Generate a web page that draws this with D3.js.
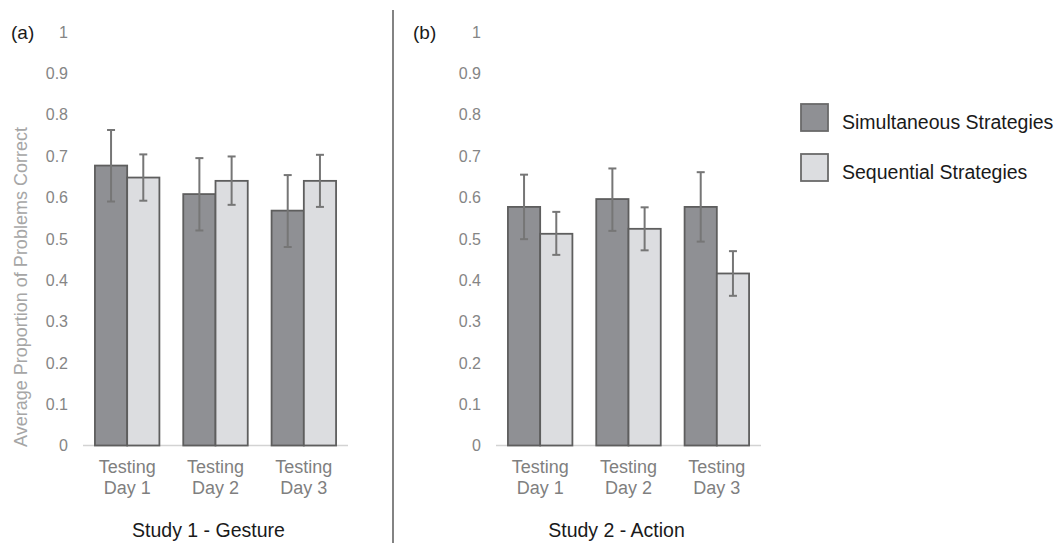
<!DOCTYPE html>
<html>
<head>
<meta charset="utf-8">
<script src="https://cdn.jsdelivr.net/npm/d3@7"></script>
<style>
  html, body { margin: 0; padding: 0; background: #ffffff; }
  svg { display: block; font-family: "Liberation Sans", Arial, sans-serif; }
</style>
</head>
<body>
<svg id="chart" width="1058" height="543"></svg>
<script>
// ---- data ----
const categories = ["Testing Day 1", "Testing Day 2", "Testing Day 3"];
const seriesNames = ["Simultaneous Strategies", "Sequential Strategies"];
const yTicks = [0, 0.1, 0.2, 0.3, 0.4, 0.5, 0.6, 0.7, 0.8, 0.9, 1];

const study1Simultaneous = [0.677, 0.608, 0.568];
const study1SimultaneousLow = [0.590, 0.520, 0.480];
const study1SimultaneousHigh = [0.763, 0.695, 0.654];
const study1Sequential = [0.648, 0.640, 0.640];
const study1SequentialLow = [0.592, 0.582, 0.577];
const study1SequentialHigh = [0.704, 0.699, 0.703];

const study2Simultaneous = [0.577, 0.596, 0.577];
const study2SimultaneousLow = [0.499, 0.519, 0.493];
const study2SimultaneousHigh = [0.655, 0.670, 0.661];
const study2Sequential = [0.512, 0.524, 0.416];
const study2SequentialLow = [0.461, 0.472, 0.362];
const study2SequentialHigh = [0.565, 0.576, 0.470];

const panels = [
  { tag: "(a)", title: "Study 1 - Gesture",
    sim: study1Simultaneous, simLo: study1SimultaneousLow, simHi: study1SimultaneousHigh,
    seq: study1Sequential, seqLo: study1SequentialLow, seqHi: study1SequentialHigh },
  { tag: "(b)", title: "Study 2 - Action",
    sim: study2Simultaneous, simLo: study2SimultaneousLow, simHi: study2SimultaneousHigh,
    seq: study2Sequential, seqLo: study2SequentialLow, seqHi: study2SequentialHigh }
];

// ---- layout ----
const layout = [
  { x0: 83, x1: 348, tagX: 11, titleShift: -7 },
  { x0: 496, x1: 761, tagX: 413, titleShift: -12 }
];
const fills = ["#8f9094", "#dcdde0"];
const barStroke = "#5e5e5e";
const errColor = "#767676";

const svg = d3.select("#chart");
const y = d3.scaleLinear().domain([0, 1]).range([445.5, 32]);

panels.forEach((p, pi) => {
  const L = layout[pi];
  const g = svg.append("g");
  const x = d3.scaleBand().domain(categories).range([L.x0, L.x1])
    .paddingInner(0.27).paddingOuter(0.135);
  const xs = d3.scaleBand().domain(seriesNames).range([0, x.bandwidth()]);

  // y tick labels
  g.selectAll("text.ytick").data(yTicks).enter().append("text")
    .attr("class", "ytick")
    .attr("x", L.x0 - 15)
    .attr("y", d => y(d))
    .attr("dy", "0.36em")
    .attr("text-anchor", "end")
    .attr("font-size", 16)
    .attr("fill", "#858585")
    .text(d => d3.format("")(d));

  // baseline
  g.append("line")
    .attr("x1", L.x0).attr("x2", L.x1)
    .attr("y1", y(0)).attr("y2", y(0))
    .attr("stroke", "#d3d3d3").attr("stroke-width", 1.5);

  const rows = [];
  categories.forEach((c, i) => {
    rows.push({ cat: c, s: 0, v: p.sim[i], lo: p.simLo[i], hi: p.simHi[i] });
    rows.push({ cat: c, s: 1, v: p.seq[i], lo: p.seqLo[i], hi: p.seqHi[i] });
  });

  g.selectAll("rect.bar").data(rows).enter().append("rect")
    .attr("class", "bar")
    .attr("x", d => x(d.cat) + xs(seriesNames[d.s]))
    .attr("width", xs.bandwidth())
    .attr("y", d => y(d.v))
    .attr("height", d => y(0) - y(d.v))
    .attr("fill", d => fills[d.s])
    .attr("stroke", barStroke)
    .attr("stroke-width", 1.8);

  const cx = d => x(d.cat) + xs(seriesNames[d.s]) + xs.bandwidth() / 2;
  const eg = g.selectAll("g.err").data(rows).enter().append("g").attr("class", "err")
    .attr("stroke", errColor).attr("stroke-width", 2);
  eg.append("line").attr("x1", cx).attr("x2", cx)
    .attr("y1", d => y(d.lo)).attr("y2", d => y(d.hi));
  eg.append("line").attr("x1", d => cx(d) - 4).attr("x2", d => cx(d) + 4)
    .attr("y1", d => y(d.hi)).attr("y2", d => y(d.hi));
  eg.append("line").attr("x1", d => cx(d) - 4).attr("x2", d => cx(d) + 4)
    .attr("y1", d => y(d.lo)).attr("y2", d => y(d.lo));

  // category labels (two lines)
  const cl = g.selectAll("text.cat").data(categories).enter().append("text")
    .attr("class", "cat")
    .attr("text-anchor", "middle")
    .attr("font-size", 18)
    .attr("fill", "#7f7f7f");
  cl.append("tspan").attr("x", d => x(d) + x.bandwidth() / 2).attr("y", 473)
    .text(d => d.split(" ")[0]);
  cl.append("tspan").attr("x", d => x(d) + x.bandwidth() / 2).attr("y", 494)
    .text(d => d.split(" ").slice(1).join(" "));

  // panel title
  g.append("text")
    .attr("x", (L.x0 + L.x1) / 2 + L.titleShift)
    .attr("y", 537)
    .attr("text-anchor", "middle")
    .attr("font-size", 19.5)
    .attr("fill", "#1a1a1a")
    .text(p.title);

  // panel tag
  g.append("text")
    .attr("x", L.tagX).attr("y", 39)
    .attr("font-size", 19)
    .attr("fill", "#1a1a1a")
    .text(p.tag);
});

// y-axis title
svg.append("text")
  .attr("transform", "translate(27,287) rotate(-90)")
  .attr("text-anchor", "middle")
  .attr("font-size", 18)
  .attr("fill", "#a6a6a6")
  .text("Average Proportion of Problems Correct");

// divider
svg.append("line")
  .attr("x1", 393).attr("x2", 393).attr("y1", 10).attr("y2", 543)
  .attr("stroke", "#5a5a5a").attr("stroke-width", 1.5);

// legend
const lg = svg.append("g").attr("transform", "translate(801,104)");
const li = lg.selectAll("g").data(seriesNames).enter().append("g")
  .attr("transform", (d, i) => `translate(0,${i * 50})`);
li.append("rect").attr("width", 27).attr("height", 27)
  .attr("fill", (d, i) => fills[i]).attr("stroke", "#6a6a6a").attr("stroke-width", 1.8);
li.append("text").attr("x", 41).attr("y", 25)
  .attr("font-size", 19.5).attr("fill", "#1a1a1a").text(d => d);
</script>
</body>
</html>
